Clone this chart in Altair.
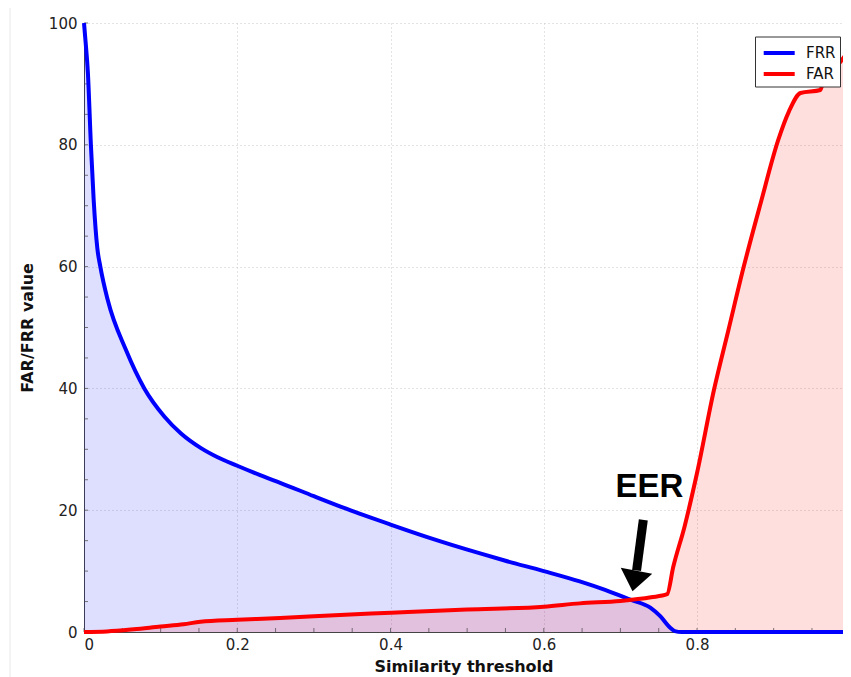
import altair as alt
import pandas as pd

# ---- data ----
frr_t = [0, 0.002, 0.005, 0.009, 0.0126, 0.0174, 0.0213, 0.031, 0.0548, 0.0787,
         0.1048, 0.1266, 0.1527, 0.1744, 0.2, 0.235, 0.256, 0.3, 0.343, 0.401,
         0.45, 0.517, 0.55, 0.6, 0.647, 0.68, 0.713, 0.739, 0.752, 0.765,
         0.771, 0.78, 1.0]
frr_v = [100, 97, 92, 80, 71, 63, 60, 54.5, 46.3, 40,
         35.4, 32.6, 30.2, 28.7, 27.3, 25.5, 24.5, 22.3, 20.2, 17.6,
         15.5, 12.9, 11.7, 10.0, 8.3, 6.9, 5.3, 4.0, 2.6, 0.7,
         0.15, 0, 0]

far_t = [0, 0.03, 0.065, 0.1, 0.13, 0.152, 0.2, 0.256, 0.3, 0.401, 0.5, 0.6,
         0.647, 0.7, 0.74, 0.761, 0.769, 0.7837, 0.8, 0.822, 0.841, 0.861, 0.883,
         0.906, 0.92, 0.935, 0.961, 0.965, 0.987, 1.0]
far_v = [0, 0.1, 0.45, 0.9, 1.26, 1.7, 2.0, 2.3, 2.6, 3.17, 3.7, 4.16,
         4.7, 5.1, 5.7, 6.2, 10.7, 17.3, 26.1, 39.7, 49.6, 60, 70.4,
         80.8, 85.5, 88.5, 89, 90.6, 93.6, 95.9]

x_major = [0, 0.2, 0.4, 0.6, 0.8, 1]
y_major = [0, 20, 40, 60, 80, 100]
x_minor = [0, 0.05, 0.1, 0.15, 0.2, 0.25, 0.3, 0.35, 0.4, 0.45, 0.5, 0.55, 0.6,
           0.65, 0.7, 0.75, 0.8, 0.85, 0.9, 0.95]
y_minor = [0, 5, 10, 15, 20, 25, 30, 35, 40, 45, 50, 55, 60, 65, 70, 75, 80,
           85, 90, 95, 100]

# annotation (data space)
eer_label = ["EER"]
eer_pos = [0.738, 22.1]
arrow_from = [0.7299, 18.4]
arrow_to = [0.7211, 10.1]
head_pos = [0.7192, 8.9]

series = ["FRR", "FAR"]
colors = ["#0000ff", "#ff0000"]

frr = pd.DataFrame({"t": frr_t, "v": frr_v, "series": "FRR"})
far = pd.DataFrame({"t": far_t, "v": far_v, "series": "FAR"})

# the reference is cut at its right edge, just before x = 1
xs = alt.Scale(domain=[0, 0.9905], nice=False, zero=False)
ys = alt.Scale(domain=[0, 100], nice=False)

X = alt.X("t:Q", scale=xs, axis=alt.Axis(
    title="Similarity threshold", values=x_major, format="~g",
    labelPadding=5, titlePadding=6))
Y = alt.Y("v:Q", scale=ys, axis=alt.Axis(
    title="FAR/FRR value", values=y_major, format="d",
    labelPadding=7, titlePadding=13))

color = alt.Color("series:N", scale=alt.Scale(domain=series, range=colors),
                  legend=alt.Legend(title=None, orient="none", legendX=671, legendY=13.5))

frr_area = alt.Chart(frr).mark_area(color="#0000ff", opacity=0.13, interpolate="monotone").encode(X, Y)
far_area = alt.Chart(far).mark_area(color="#ff0000", opacity=0.13, interpolate="monotone").encode(X, Y)
frr_line = alt.Chart(frr).mark_line(strokeWidth=4, interpolate="monotone").encode(X, Y, color=color)
far_line = alt.Chart(far).mark_line(strokeWidth=4, interpolate="monotone").encode(X, Y, color=color)

xt = pd.DataFrame({"t": x_minor, "v": [0] * len(x_minor)})
yt = pd.DataFrame({"t": [0] * len(y_minor), "v": y_minor})
x_ticks = alt.Chart(xt).mark_tick(orient="vertical", color="#444", thickness=1,
                                  size=4, yOffset=-2).encode(X, Y)
y_ticks = alt.Chart(yt).mark_tick(orient="horizontal", color="#444", thickness=1,
                                  size=4, xOffset=2).encode(X, Y)

eer = alt.Chart(pd.DataFrame({"t": [eer_pos[0]], "v": [eer_pos[1]], "label": eer_label})).mark_text(
    font="Liberation Sans", fontSize=33, fontWeight="bold", color="black",
    align="center", baseline="alphabetic").encode(X, Y, text="label:N")

shaft = alt.Chart(pd.DataFrame({"t": [arrow_from[0]], "v": [arrow_from[1]],
                                "t2": [arrow_to[0]], "v2": [arrow_to[1]]})).mark_rule(
    color="black", strokeWidth=9).encode(X, Y, x2="t2:Q", y2="v2:Q")

head = alt.Chart(pd.DataFrame({"t": [head_pos[0]], "v": [head_pos[1]]})).mark_point(
    shape="M -1 -0.45 L 1 -0.45 L 0 0.85 Z", size=1024, filled=True,
    color="black", opacity=1, angle=11).encode(X, Y)

frame = alt.Chart(pd.DataFrame({"k": [0]})).mark_rule(color="#e8e8e8", strokeWidth=1).encode(
    x=alt.value(-74), y=alt.value(-15), y2=alt.value(656))

chart = alt.layer(
    frame, frr_area, far_area, x_ticks, y_ticks, frr_line, far_line, shaft, head, eer
).properties(
    width=759, height=609,
    padding={"left": 76, "top": 15, "right": 0, "bottom": 47},
    autosize=alt.AutoSizeParams(type="none"),
).configure_view(stroke=None).configure_axis(
    labelFont="DejaVu Sans", labelFontSize=15, labelColor="#222",
    titleFont="DejaVu Sans", titleFontSize=16, titleFontWeight="bold", titleColor="#111",
    domainColor="#444", domainWidth=1, ticks=False, tickSize=0,
    grid=True, gridColor="#c8c8c8", gridDash=[1, 3], gridWidth=1,
).configure_legend(
    symbolType="M -0.78 0 L 2.32 0", symbolStrokeWidth=4, symbolSize=400,
    labelFont="DejaVu Sans", labelFontSize=15, labelColor="#111",
    strokeColor="#333", fillColor="white", padding=4.5, rowPadding=1,
    labelOffset=22.5, cornerRadius=0,
)

chart.save("out.html", embed_options={"renderer": "svg", "actions": False})
